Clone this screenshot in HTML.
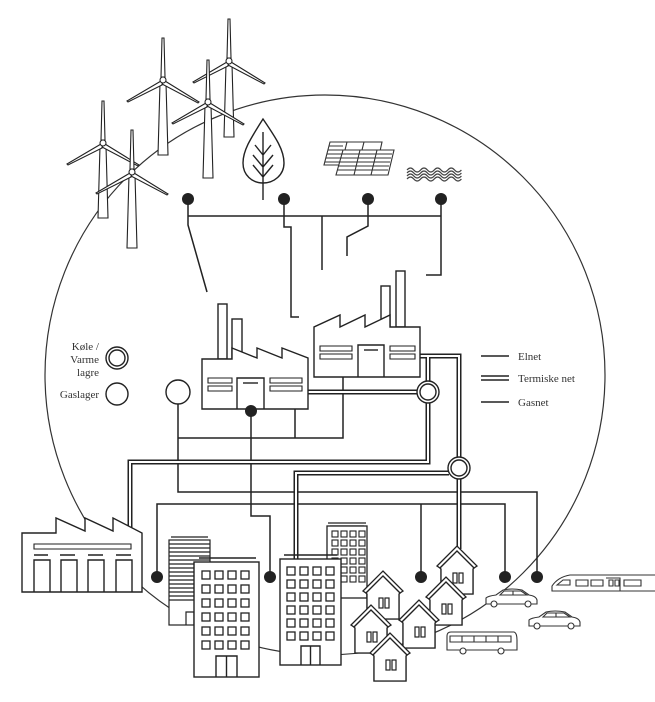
<!DOCTYPE html>
<html><head><meta charset="utf-8"><style>
html,body{margin:0;padding:0;background:#fff;}
svg{display:block;}
text{font-family:"Liberation Serif",serif;font-size:11px;fill:#333;}
</style></head><body>
<svg width="655" height="702" viewBox="0 0 655 702" xmlns="http://www.w3.org/2000/svg">
<defs>
<g id="mill">
 <path d="M-2,-3 L-1,-42 L1,-42 L2,-3 Z" fill="#fff" stroke="#222" stroke-width="1.1"/>
 <path d="M-2,1 L-36,21 L-35,22 L1,4 Z" fill="#fff" stroke="#222" stroke-width="1.1"/>
 <path d="M2,1 L36,22 L35,23 L-1,4 Z" fill="#fff" stroke="#222" stroke-width="1.1"/>
 <circle r="3" fill="#fff" stroke="#222" stroke-width="1.1"/>
</g>
<g id="house">
 <path d="M-16,14 L-16,46 L16,46 L16,14" fill="#fff" stroke="#222" stroke-width="1.3"/>
 <path d="M-20,18 L0,-2 L20,18 L17,20 L0,3 L-17,20 Z" fill="#fff" stroke="#222" stroke-width="1.3"/>
 <path d="M-17,20 L0,3 L17,20 L16,21 L16,46 L-16,46 L-16,21Z" fill="#fff" stroke="#222" stroke-width="1.3"/>
 <rect x="-4" y="25" width="4" height="10" fill="#fff" stroke="#222" stroke-width="1.2"/>
 <rect x="2" y="25" width="4" height="10" fill="#fff" stroke="#222" stroke-width="1.2"/>
</g>
<g id="win"><rect width="8" height="8" fill="#fff" stroke="#222" stroke-width="1.3"/></g>
<g id="swin"><rect width="6" height="6" fill="#fff" stroke="#222" stroke-width="1.1"/></g>
</defs>

<!-- big circle -->
<circle cx="325" cy="375" r="280" fill="none" stroke="#333" stroke-width="1.2"/>

<!-- windmills -->
<g fill="#fff" stroke="#222" stroke-width="1.1">
 <path d="M226,64 L232,64 L234,137 L224,137 Z"/>
 <path d="M160,83 L166,83 L168,155 L158,155 Z"/>
 <path d="M205,105 L211,105 L213,178 L203,178 Z"/>
 <path d="M100,146 L106,146 L108,218 L98,218 Z"/>
 <path d="M129,175 L135,175 L137,248 L127,248 Z"/>
</g>
<use href="#mill" x="229" y="61"/>
<use href="#mill" x="163" y="80"/>
<use href="#mill" x="208" y="102"/>
<use href="#mill" x="103" y="143"/>
<use href="#mill" x="132" y="172"/>

<!-- leaf -->
<g fill="none" stroke="#222" stroke-width="1.4">
 <path d="M263,119 C251,138 243,150 243,163 C243,175 252,183 263,183 C274,183 284,175 284,163 C284,150 276,138 263,119 Z"/>
 <path d="M263,132 L263,200 M255,145 L263,155 L271,145 M253,155 L263,167 L273,155 M253,165 L263,177 L273,165"/>
</g>

<!-- solar -->
<g fill="#fff" stroke="#333" stroke-width="1.1">
 <path d="M330,142 L382,142 L377,165 L324,165 Z"/>
 <path d="M343,150 L394,150 L388,175 L336,175 Z"/>
 <path d="M341,154 L392,154 M340,158 L391,158 M339,162 L390,162 M338,166 L389,166 M337,170 L388,170 M360,150 L354,175 M377,150 L371,175" fill="none"/>
 <path d="M329,146 L343,146 M328,150 L343,150 M327,154 L341,154 M326,158 L340,158 M325,162 L339,162 M347,142 L345,150 M364,142 L362,150" fill="none"/>
</g>
<!-- waves -->
<g fill="none" stroke="#444" stroke-width="1.2">
 <path d="M407,170 q3.4,-4 6.8,0 t6.8,0 t6.8,0 t6.8,0 t6.8,0 t6.8,0 t6.8,0 t6.8,0"/>
 <path d="M407,173 q3.4,-4 6.8,0 t6.8,0 t6.8,0 t6.8,0 t6.8,0 t6.8,0 t6.8,0 t6.8,0"/>
 <path d="M407,176 q3.4,-4 6.8,0 t6.8,0 t6.8,0 t6.8,0 t6.8,0 t6.8,0 t6.8,0 t6.8,0"/>
 <path d="M407,179 q3.4,-4 6.8,0 t6.8,0 t6.8,0 t6.8,0 t6.8,0 t6.8,0 t6.8,0 t6.8,0"/>
</g>

<!-- top electric network -->
<g fill="none" stroke="#222" stroke-width="1.5">
 <path d="M188,216 L441,216"/>
 <path d="M188,200 L188,225 L207,292"/>
 <path d="M284,200 L284,227 L291,227 L291,317 L299,317"/>
 <path d="M322,216 L322,270"/>
 <path d="M368,200 L368,226 L347,237 L347,256"/>
 <path d="M441,200 L441,275 L426,275"/>
</g>
<g fill="#222">
 <circle cx="188" cy="199" r="6"/><circle cx="284" cy="199" r="6"/>
 <circle cx="368" cy="199" r="6"/><circle cx="441" cy="199" r="6"/>
</g>

<!-- thin networks -->
<g fill="none" stroke="#222" stroke-width="1.5">
 <path d="M178,404 L178,492 L537,492 L537,577"/>
 <path d="M157,577 L157,504 L505,504 L505,577"/>
 <path d="M421,504 L421,577"/>
 <path d="M251,411 L251,516 L270,516 L270,577"/>
 <path d="M295,409 L295,438 M178,438 L343,438 L343,377"/>
</g>

<!-- thermal double lines -->
<g fill="none" stroke-linejoin="miter">
 <g stroke="#222" stroke-width="5">
  <path d="M308,392 L418,392"/>
  <path d="M420,356 L459,356 L459,458"/>
  <path d="M428,356 L428,381"/>
  <path d="M428,403 L428,462 L130,462 L130,530"/>
  <path d="M449,473 L296,473 L296,560"/>
  <path d="M459,478 L459,549"/>
 </g>
 <g stroke="#fff" stroke-width="2">
  <path d="M308,392 L418,392"/>
  <path d="M420,356 L459,356 L459,458"/>
  <path d="M428,356 L428,381"/>
  <path d="M428,403 L428,462 L130,462 L130,530"/>
  <path d="M449,473 L296,473 L296,560"/>
  <path d="M459,478 L459,549"/>
 </g>
</g>
<g fill="#fff" stroke="#222" stroke-width="1.4">
 <circle cx="428" cy="392" r="11"/><circle cx="428" cy="392" r="8"/>
 <circle cx="459" cy="468" r="11"/><circle cx="459" cy="468" r="8"/>
 <circle cx="178" cy="392" r="12"/>
 <circle cx="117" cy="358" r="11"/><circle cx="117" cy="358" r="8"/>
 <circle cx="117" cy="394" r="11"/>
</g>

<!-- factory 1 -->
<g fill="#fff" stroke="#222" stroke-width="1.4">
 <rect x="218" y="304" width="9" height="55"/>
 <rect x="232" y="319" width="10" height="40"/>
 <path d="M202,409 L202,359 L232,359 L232,348 L257,358 L257,348 L282,358 L282,348 L308,358 L308,409 Z"/>
 <path d="M208,378 H232 V383 H208 Z M208,386 H232 V391 H208 Z M270,378 H302 V383 H270 Z M270,386 H302 V391 H270 Z" stroke-width="1.1"/>
 <path d="M237,409 V378 H264 V409" fill="none"/>
 <path d="M243,383 H258" fill="none"/>
</g>
<circle cx="251" cy="411" r="6" fill="#222"/>
<!-- factory 2 -->
<g fill="#fff" stroke="#222" stroke-width="1.4">
 <rect x="381" y="286" width="9" height="41"/>
 <rect x="396" y="271" width="9" height="56"/>
 <path d="M314,377 L314,327 L340,315 L340,327 L365,315 L365,327 L390,315 L390,327 L420,327 L420,377 Z"/>
 <path d="M320,346 H352 V351 H320 Z M320,354 H352 V359 H320 Z M390,346 H415 V351 H390 Z M390,354 H415 V359 H390 Z" stroke-width="1.1"/>
 <path d="M358,377 V345 H384 V377" fill="none"/>
 <path d="M364,350 H378" fill="none"/>
</g>

<!-- legend -->
<g stroke="#222" stroke-width="1.5" fill="none">
 <path d="M481,356 H509 M481,402 H509 M481,376 H509 M481,380 H509"/>
</g>
<text x="518" y="360">Elnet</text>
<text x="518" y="382">Termiske net</text>
<text x="518" y="406">Gasnet</text>
<text x="99" y="350" text-anchor="end">Køle /</text>
<text x="99" y="363" text-anchor="end">Varme</text>
<text x="99" y="376" text-anchor="end">lagre</text>
<text x="99" y="398" text-anchor="end">Gaslager</text>

<!-- factory 3 -->
<g fill="#fff" stroke="#222" stroke-width="1.4">
 <path d="M22,592 L22,533 L56,533 L56,518 L85,531 L85,518 L113,531 L113,518 L142,533 L142,592 Z"/>
 <path d="M34,544 H131 V549 H34 Z" stroke-width="1.1"/>
 <path d="M34,555 H48 M60,555 H75 M88,555 H103 M116,555 H131" fill="none"/>
 <path d="M34,592 V560 H50 V592 M61,592 V560 H77 V592 M88,592 V560 H104 V592 M116,592 V560 H132 V592" fill="none"/>
</g>

<!-- building D back -->
<g fill="#fff" stroke="#222" stroke-width="1.3">
 <path d="M328,523 H366 M330,526 H364"/>
 <rect x="327" y="526" width="40" height="72"/>
</g>
<g>
 <use href="#swin" x="332" y="531"/><use href="#swin" x="341" y="531"/><use href="#swin" x="350" y="531"/><use href="#swin" x="359" y="531"/>
 <use href="#swin" x="332" y="540"/><use href="#swin" x="341" y="540"/><use href="#swin" x="350" y="540"/><use href="#swin" x="359" y="540"/>
 <use href="#swin" x="332" y="549"/><use href="#swin" x="341" y="549"/><use href="#swin" x="350" y="549"/><use href="#swin" x="359" y="549"/>
 <use href="#swin" x="332" y="558"/><use href="#swin" x="341" y="558"/><use href="#swin" x="350" y="558"/><use href="#swin" x="359" y="558"/>
 <use href="#swin" x="332" y="567"/><use href="#swin" x="341" y="567"/><use href="#swin" x="350" y="567"/><use href="#swin" x="359" y="567"/>
 <use href="#swin" x="332" y="576"/><use href="#swin" x="341" y="576"/><use href="#swin" x="350" y="576"/><use href="#swin" x="359" y="576"/>
</g>

<!-- building A striped -->
<g fill="#fff" stroke="#222" stroke-width="1.2">
 <path d="M171,537 H208"/>
 <rect x="169" y="540" width="41" height="85"/>
 <path d="M169,544 H210 M169,548 H210 M169,552 H210 M169,556 H210 M169,560 H210 M169,564 H210 M169,568 H210 M169,572 H210 M169,576 H210 M169,580 H210 M169,584 H210 M169,588 H210 M169,592 H210 M169,596 H210 M169,600 H210" fill="none"/>
 <path d="M186,625 V612 H194 V625" fill="none"/>
</g>

<!-- building B -->
<g fill="#fff" stroke="#222" stroke-width="1.4">
 <path d="M199,558 H256"/>
 <rect x="194" y="562" width="65" height="115"/>
 <path d="M216,677 V656 H237 V677 M226.5,656 V677" fill="none"/>
</g>
<g>
 <use href="#win" x="202" y="571"/><use href="#win" x="215" y="571"/><use href="#win" x="228" y="571"/><use href="#win" x="241" y="571"/>
 <use href="#win" x="202" y="585"/><use href="#win" x="215" y="585"/><use href="#win" x="228" y="585"/><use href="#win" x="241" y="585"/>
 <use href="#win" x="202" y="599"/><use href="#win" x="215" y="599"/><use href="#win" x="228" y="599"/><use href="#win" x="241" y="599"/>
 <use href="#win" x="202" y="613"/><use href="#win" x="215" y="613"/><use href="#win" x="228" y="613"/><use href="#win" x="241" y="613"/>
 <use href="#win" x="202" y="627"/><use href="#win" x="215" y="627"/><use href="#win" x="228" y="627"/><use href="#win" x="241" y="627"/>
 <use href="#win" x="202" y="641"/><use href="#win" x="215" y="641"/><use href="#win" x="228" y="641"/><use href="#win" x="241" y="641"/>
</g>

<!-- building C -->
<g fill="#fff" stroke="#222" stroke-width="1.4">
 <path d="M284,555 H337"/>
 <rect x="280" y="559" width="61" height="106"/>
 <path d="M301,665 V646 H320 V665 M310.5,646 V665" fill="none"/>
</g>
<g>
 <use href="#win" x="287" y="567"/><use href="#win" x="300" y="567"/><use href="#win" x="313" y="567"/><use href="#win" x="326" y="567"/>
 <use href="#win" x="287" y="580"/><use href="#win" x="300" y="580"/><use href="#win" x="313" y="580"/><use href="#win" x="326" y="580"/>
 <use href="#win" x="287" y="593"/><use href="#win" x="300" y="593"/><use href="#win" x="313" y="593"/><use href="#win" x="326" y="593"/>
 <use href="#win" x="287" y="606"/><use href="#win" x="300" y="606"/><use href="#win" x="313" y="606"/><use href="#win" x="326" y="606"/>
 <use href="#win" x="287" y="619"/><use href="#win" x="300" y="619"/><use href="#win" x="313" y="619"/><use href="#win" x="326" y="619"/>
 <use href="#win" x="287" y="632"/><use href="#win" x="300" y="632"/><use href="#win" x="313" y="632"/><use href="#win" x="326" y="632"/>
</g>

<!-- houses -->
<use href="#house" x="457" y="548"/>
<use href="#house" x="446" y="579"/>
<use href="#house" x="383" y="573"/>
<use href="#house" x="419" y="602"/>
<use href="#house" x="371" y="607"/>
<use href="#house" x="390" y="635"/>

<!-- bottom dots -->
<g fill="#222">
 <circle cx="157" cy="577" r="6"/><circle cx="270" cy="577" r="6"/>
 <circle cx="421" cy="577" r="6"/><circle cx="505" cy="577" r="6"/>
 <circle cx="537" cy="577" r="6"/>
</g>

<!-- cars -->
<g fill="#fff" stroke="#333" stroke-width="1.1">
 <path d="M486,604 L486,598 Q488,596 496,595 L503,590 Q512,588 522,590 L529,595 Q536,596 537,600 L537,604 Z"/>
 <path d="M500,595 L504,591 L521,591 L527,595 Z M513,591 V595" />
 <circle cx="494" cy="604" r="3"/><circle cx="528" cy="604" r="3"/>
 <path d="M529,626 L529,620 Q531,618 539,617 L546,612 Q555,610 565,612 L572,617 Q579,618 580,622 L580,626 Z"/>
 <path d="M543,617 L547,613 L564,613 L570,617 Z M556,613 V617"/>
 <circle cx="537" cy="626" r="3"/><circle cx="571" cy="626" r="3"/>
 <!-- bus -->
 <path d="M447,650 L447,636 Q447,632 451,632 L514,632 Q517,633 517,640 L517,650 Z"/>
 <path d="M450,636 H511 V642 H450 Z M462,636 V642 M474,636 V642 M486,636 V642 M498,636 V642" fill="none"/>
 <circle cx="463" cy="651" r="3"/><circle cx="501" cy="651" r="3"/>
 <!-- train -->
 <path d="M655,575 L570,575 Q558,577 552,586 L552,591 L655,591"/>
 <path d="M557,585 L563,580 L570,580 L570,585 Z"/>
 <path d="M576,580 H588 V586 H576 Z M591,580 H603 V586 H591 Z M606,578 H620 V591 M609,580 H613 V586 H609 Z M615,580 H619 V586 H615 Z M624,580 H641 V586 H624 Z" fill="none"/>
</g>
</svg>
</body></html>
